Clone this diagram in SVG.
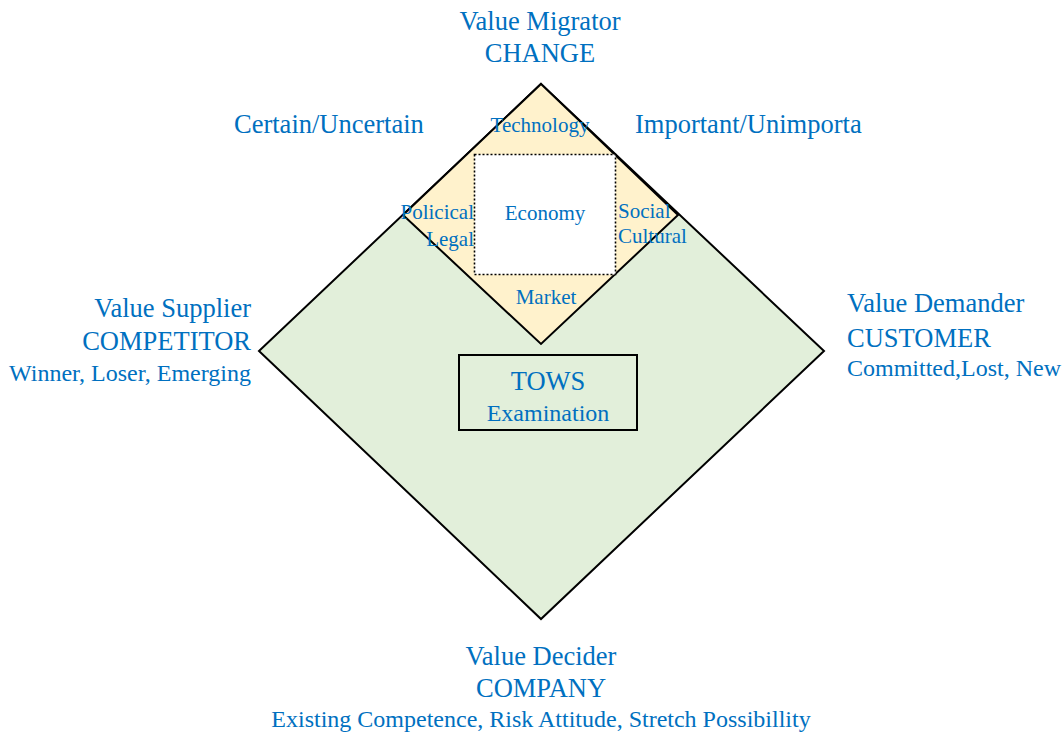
<svg xmlns="http://www.w3.org/2000/svg" width="1063" height="733" viewBox="0 0 1063 733">
  <style>
    .t { font-family: "Liberation Serif", "Times New Roman", serif; fill: #0070C0; }
    .big { font-size: 26.5px; }
    .mid { font-size: 24px; }
    .sm { font-size: 21px; }
    .edge { stroke: #000; stroke-width: 2; stroke-linejoin: miter; }
  </style>
  <rect width="1063" height="733" fill="#fff"/>

  <!-- outer value diamond -->
  <g id="value-diamond">
    <polygon class="edge" points="541,84 824,351 541,619 259,351" fill="#E2EFDA"/>
  </g>

  <!-- environment (PEST) diamond -->
  <g id="environment-diamond">
    <polygon class="edge" points="541,84 678,215 541,344 403,215" fill="#FFF2CC"/>
    <text class="t sm" x="540" y="132" text-anchor="middle">Technology</text>
    <text class="t sm" x="474" y="219" text-anchor="end">Policical</text>
    <text class="t sm" x="474" y="246" text-anchor="end">Legal</text>
    <text class="t sm" x="618" y="218">Social</text>
    <text class="t sm" x="618" y="243">Cultural</text>
    <text class="t sm" x="546" y="304" text-anchor="middle">Market</text>
  </g>

  <!-- economy core -->
  <g id="economy">
    <rect x="474.5" y="154.5" width="141" height="120" fill="#fff" stroke="#000" stroke-width="1.6" stroke-dasharray="2,2"/>
    <text class="t sm" x="545" y="220" text-anchor="middle">Economy</text>
  </g>

  <!-- TOWS box -->
  <g id="tows">
    <rect x="459" y="355" width="178" height="75" fill="#E2EFDA" stroke="#000" stroke-width="2"/>
    <text class="t big" x="548" y="390" text-anchor="middle">TOWS</text>
    <text class="t mid" x="548" y="421" text-anchor="middle">Examination</text>
  </g>

  <g id="connectors"/>

  <!-- corner labels -->
  <g id="migrator">
    <text class="t big" x="540" y="30" text-anchor="middle">Value Migrator</text>
    <text class="t big" x="540" y="62" text-anchor="middle">CHANGE</text>
  </g>
  <g id="certainty">
    <text class="t big" x="234" y="133">Certain/Uncertain</text>
  </g>
  <g id="importance">
    <text class="t big" x="635" y="133">Important/Unimporta</text>
  </g>
  <g id="supplier">
    <text class="t big" x="251" y="317" text-anchor="end">Value Supplier</text>
    <text class="t big" x="251" y="350" text-anchor="end">COMPETITOR</text>
    <text class="t mid" x="251" y="381" text-anchor="end">Winner, Loser, Emerging</text>
  </g>
  <g id="demander">
    <text class="t big" x="847" y="312">Value Demander</text>
    <text class="t big" x="847" y="347">CUSTOMER</text>
    <text class="t mid" x="847" y="376">Committed,Lost, New</text>
  </g>
  <g id="decider">
    <text class="t big" x="541" y="665" text-anchor="middle">Value Decider</text>
    <text class="t big" x="541" y="697" text-anchor="middle">COMPANY</text>
    <text class="t mid" x="541" y="727" text-anchor="middle">Existing Competence, Risk Attitude, Stretch Possibillity</text>
  </g>
</svg>
